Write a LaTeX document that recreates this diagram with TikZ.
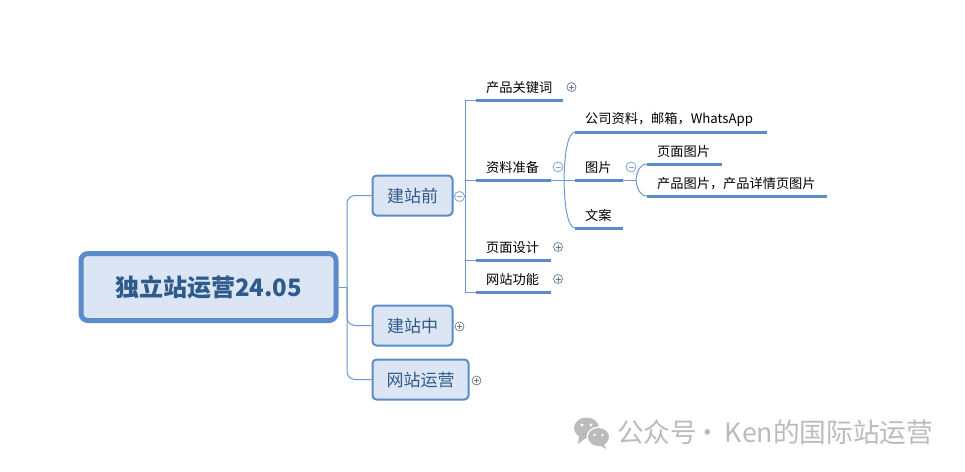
\documentclass[tikz,border=0pt]{standalone}
\usepackage{xcolor}
\usepackage{fontspec}
\setmainfont{Noto Sans CJK SC}
\definecolor{mapblue}{HTML}{5B8BC9}
\definecolor{mapfill}{HTML}{DBE5F3}
\definecolor{maptext}{HTML}{2F5A8C}
\definecolor{mapline}{HTML}{6F97CB}
\definecolor{markgray}{HTML}{66778F}
\definecolor{markblue}{HTML}{86A4CE}
\definecolor{markcolor}{HTML}{BBBBBB}

\begin{document}
\begin{tikzpicture}[
    x=1pt,
    y=-1pt,
    rootbox/.style={
        draw=mapblue,
        fill=mapfill,
        rounded corners=7pt,
        line width=5pt,
        text=maptext,
        font=\fontsize{24}{28}\selectfont\bfseries,
        minimum width=255pt,
        minimum height=67pt
    },
    mainbox/.style={
        draw=mapblue,
        fill=mapfill,
        rounded corners=4pt,
        line width=2pt,
        text=maptext,
        font=\fontsize{17}{20}\selectfont,
        minimum height=40pt,
        text height=15pt,
        text depth=2pt,
        inner xsep=0pt
    },
    topicbox/.style={
        anchor=south west,
        align=left,
        text width=#1,
        inner xsep=10pt,
        inner ysep=0pt,
        minimum height=24pt,
        font=\fontsize{13.2}{15}\selectfont
    },
    topicline/.style={
        draw=mapblue,
        line width=3pt
    },
    branch/.style={
        draw=mapline,
        line width=1pt
    },
    plusmark/.style={
        circle,
        draw=markgray,
        fill=white,
        line width=0.7pt,
        minimum size=9pt,
        inner sep=0pt,
        path picture={
            \draw[markgray,line width=0.7pt]
                ([xshift=-2.5pt]path picture bounding box.center) -- ([xshift=2.5pt]path picture bounding box.center)
                ([yshift=-2.5pt]path picture bounding box.center) -- ([yshift=2.5pt]path picture bounding box.center);
        }
    },
    minusmark/.style={
        circle,
        draw=markblue,
        fill=white,
        line width=0.8pt,
        minimum size=10pt,
        inner sep=0pt,
        path picture={
            \draw[markblue,line width=0.8pt]
                ([xshift=-2.5pt]path picture bounding box.center) -- ([xshift=2.5pt]path picture bounding box.center);
        }
    }
]

\useasboundingbox (0,0) rectangle (965,471);

\node[rootbox] (root) at (208.5,287)
{
    独立站运营24.05
};

\node[mainbox, minimum width=80pt] (before) at (412.5,195.5)
{
    建站前
};

\node[mainbox, minimum width=80pt] (during) at (412.5,325.5)
{
    建站中
};

\node[mainbox, minimum width=96pt] (operate) at (420.5,379.5)
{
    网站运营
};

\node[topicbox=67pt] (keyword) at (476,100) {产品关键词};
\node[topicbox=55pt] (material) at (476,180) {资料准备};
\node[topicbox=55pt] (pagedesign) at (476,260) {页面设计};
\node[topicbox=55pt] (feature) at (476,292) {网站功能};

\node[topicbox=172pt] (company) at (575,132) {公司资料，邮箱，WhatsApp};
\node[topicbox=28pt] (picture) at (575,180) {图片};
\node[topicbox=28pt] (copytext) at (575,228) {文案};

\node[topicbox=55pt] (pagepic) at (647,164) {页面图片};
\node[topicbox=160pt] (productpic) at (647,196) {产品图片，产品详情页图片};

\coordinate (rootHub) at (347,287);
\coordinate (beforeHub) at (465,196);
\coordinate (materialHub) at (564,180);
\coordinate (pictureHub) at (636,180);

% connectors
\draw[branch] (root.east) -- (rootHub);
\draw[branch, rounded corners=8pt] (rootHub) |- (before.west);
\draw[branch, rounded corners=8pt] (rootHub) |- (during.west);
\draw[branch, rounded corners=8pt] (rootHub) |- (operate.west);

\draw[branch] (before.east) -- (beforeHub);
\draw[branch] (beforeHub) |- (keyword.south west);
\draw[branch] (beforeHub) |- (material.south west);
\draw[branch] (beforeHub) |- (pagedesign.south west);
\draw[branch] (beforeHub) |- (feature.south west);

\draw[branch] (material.south east) -- (picture.south west);
\draw[branch] (materialHub) .. controls (564.5,152) and (568,132.5) .. (company.south west);
\draw[branch] (materialHub) .. controls (564.5,208) and (568,227.5) .. (copytext.south west);

\draw[branch] (picture.south east) -- (pictureHub);
\draw[branch] (pictureHub) .. controls (637,171) and (640,164) .. (pagepic.south west);
\draw[branch] (pictureHub) .. controls (637,189) and (640,196) .. (productpic.south west);

% underlines
\draw[topicline] (keyword.south west) -- (keyword.south east);
\draw[topicline] (material.south west) -- (material.south east);
\draw[topicline] (pagedesign.south west) -- (pagedesign.south east);
\draw[topicline] (feature.south west) -- (feature.south east);
\draw[topicline] (company.south west) -- (company.south east);
\draw[topicline] (picture.south west) -- (picture.south east);
\draw[topicline] (copytext.south west) -- (copytext.south east);
\draw[topicline] (pagepic.south west) -- (pagepic.south east);
\draw[topicline] (productpic.south west) -- (productpic.south east);

% collapse marks
\node[minusmark] (beforemark) at (459.5,196.5) {};
\node[plusmark] (duringmark) at (459.5,326.5) {};
\node[plusmark] (operatemark) at (476.5,380.5) {};
\node[plusmark] (keywordmark) at (571.5,87) {};
\node[minusmark] (materialmark) at (558,167) {};
\node[plusmark] (designmark) at (558,247) {};
\node[plusmark] (featuremark) at (558,279) {};
\node[minusmark] (picturemark) at (631,167) {};

% watermark
\fill[markcolor] (586.5,428) ellipse (12.5pt and 10.5pt);
\fill[markcolor] (579,436) -- (578,444) -- (586,438) -- cycle;
\fill[white] (598.5,437) ellipse (12pt and 10.5pt);
\fill[markcolor] (598.5,437) ellipse (10.5pt and 9pt);
\fill[markcolor] (604,444) -- (606,449) -- (599,445) -- cycle;
\fill[white] (582,425) circle (1.7pt) (591,425) circle (1.7pt);
\fill[white] (594.5,435) circle (1.4pt) (602.5,435) circle (1.4pt);
\node[text=markcolor, anchor=west, inner sep=0pt, font=\fontsize{26.7}{30}\selectfont] (mark) at (617,432)
{
    公众号\kern-2.5pt·\kern-2.5pt{} Ken的国际站运营
};

\end{tikzpicture}
\end{document}
